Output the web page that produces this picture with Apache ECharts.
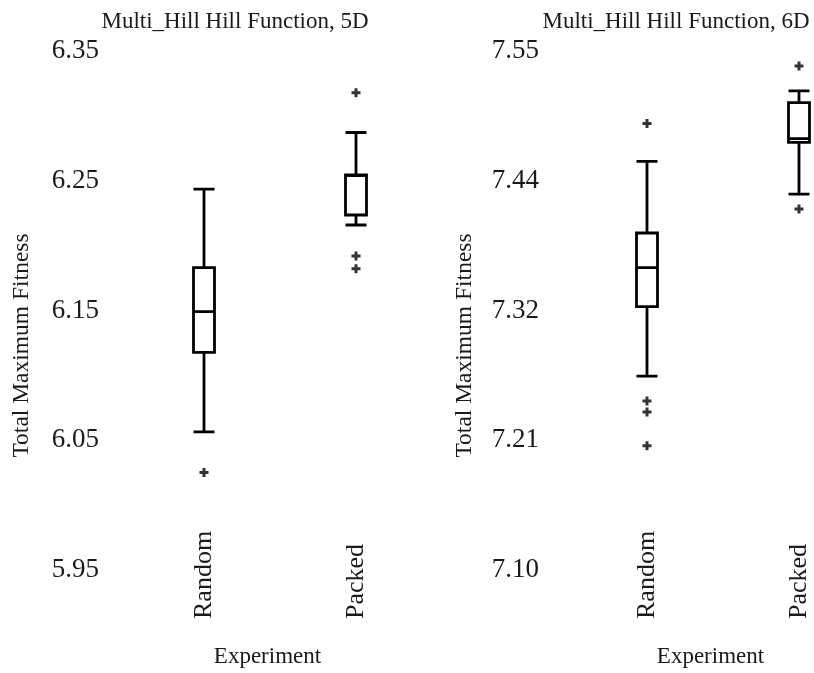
<!DOCTYPE html>
<html>
<head>
<meta charset="utf-8">
<script src="https://cdn.jsdelivr.net/npm/echarts@6/dist/echarts.min.js"></script>
<style>
html,body{margin:0;padding:0;background:#fff;}
#chart{width:814px;height:673px;}
</style>
</head>
<body>
<div id="chart"></div>
<script>
// ---- data ----
const categories = ['Random', 'Packed'];
const panelTitles = ['Multi_Hill Hill Function, 5D', 'Multi_Hill Hill Function, 6D'];
const yAxisTitle = 'Total Maximum Fitness';
const xAxisTitle = 'Experiment';

// box stats: [lower whisker, Q1, median, Q3, upper whisker]
const boxes5D = [
  [6.0565, 6.1178, 6.1492, 6.1830, 6.2435],
  [6.2159, 6.2236, 6.2540, 6.2545, 6.2872]
];
const outliers5D = [
  [0, 6.0251],
  [1, 6.3178],
  [1, 6.1921],
  [1, 6.1822]
];
const boxes6D = [
  [7.2681, 7.3284, 7.3621, 7.3922, 7.4543],
  [7.4259, 7.4707, 7.4741, 7.5052, 7.5155]
];
const outliers6D = [
  [0, 7.4871],
  [0, 7.2466],
  [0, 7.2371],
  [0, 7.2078],
  [1, 7.5371],
  [1, 7.4129]
];

const yTicks5D = [5.95, 6.05, 6.15, 6.25, 6.35];
const yTickLabels5D = ['5.95', '6.05', '6.15', '6.25', '6.35'];
const yTicks6D = [7.10, 7.2125, 7.325, 7.4375, 7.55];
const yTickLabels6D = ['7.10', '7.21', '7.32', '7.44', '7.55'];

// ---- chart ----
const FONT = '"Liberation Serif", "DejaVu Serif", serif';
const TXT = '#1a1a1a';
const plus = 'path://M-1.4,-4.2 L1.4,-4.2 L1.4,-1.4 L4.2,-1.4 L4.2,1.4 L1.4,1.4 L1.4,4.2 L-1.4,4.2 L-1.4,1.4 L-4.2,1.4 L-4.2,-1.4 L-1.4,-1.4 Z';

function labelFor(ticks, labels) {
  return function (v) {
    let best = 0, bd = Infinity;
    ticks.forEach((t, i) => { const d = Math.abs(t - v); if (d < bd) { bd = d; best = i; } });
    return labels[best];
  };
}

const grids = [
  { left: 204, width: 152, top: 51, height: 522 },
  { left: 647, width: 152, top: 51, height: 522 }
];

function xAxis(gi) {
  return {
    type: 'category', gridIndex: gi, data: categories, boundaryGap: false,
    axisLine: { show: false }, axisTick: { show: false }, splitLine: { show: false },
    axisLabel: {
      rotate: 90, align: 'left', margin: 49, interval: 0,
      fontFamily: FONT, fontSize: 26, color: TXT
    },
    name: xAxisTitle, nameLocation: 'middle', nameGap: 75,
    nameTextStyle: { fontFamily: FONT, fontSize: 23, color: TXT, padding: [0, 25, 0, 0] }
  };
}

function yAxis(gi, min, max, ticks, labels, margin) {
  return {
    type: 'value', gridIndex: gi, min: min, max: max,
    axisLine: { show: false }, axisTick: { show: false }, splitLine: { show: false },
    axisLabel: {
      customValues: ticks, formatter: labelFor(ticks, labels), margin: margin,
      fontFamily: FONT, fontSize: 27, color: TXT
    },
    name: yAxisTitle, nameLocation: 'middle', nameGap: 170, nameRotate: 90,
    nameTextStyle: { fontFamily: FONT, fontSize: 23.5, color: TXT, padding: [0, 70, 0, 0] }
  };
}

function boxSeries(gi, data) {
  return {
    type: 'boxplot', xAxisIndex: gi, yAxisIndex: gi, data: data,
    boxWidth: [21, 21],
    itemStyle: { color: '#fff', borderColor: '#000', borderWidth: 2.8 },
    emphasis: { disabled: true }, silent: true
  };
}

function outlierSeries(gi, data) {
  return {
    type: 'scatter', xAxisIndex: gi, yAxisIndex: gi, data: data,
    symbol: plus, symbolSize: 9,
    itemStyle: { color: '#000' }, silent: true
  };
}

const chart = echarts.init(document.getElementById('chart'), null, { renderer: 'canvas' });
chart.setOption({
  animation: false,
  backgroundColor: '#fff',
  title: [
    { text: panelTitles[0], left: 230, top: 5, textAlign: 'center',
      textStyle: { fontFamily: FONT, fontSize: 23, fontWeight: 'normal', color: TXT } },
    { text: panelTitles[1], left: 671, top: 5, textAlign: 'center',
      textStyle: { fontFamily: FONT, fontSize: 23, fontWeight: 'normal', color: TXT } }
  ],
  grid: grids,
  xAxis: [xAxis(0), xAxis(1)],
  yAxis: [
    yAxis(0, 5.95, 6.35, yTicks5D, yTickLabels5D, 105),
    yAxis(1, 7.10, 7.55, yTicks6D, yTickLabels6D, 108)
  ],
  series: [
    boxSeries(0, boxes5D), outlierSeries(0, outliers5D),
    boxSeries(1, boxes6D), outlierSeries(1, outliers6D)
  ]
});
</script>
</body>
</html>
